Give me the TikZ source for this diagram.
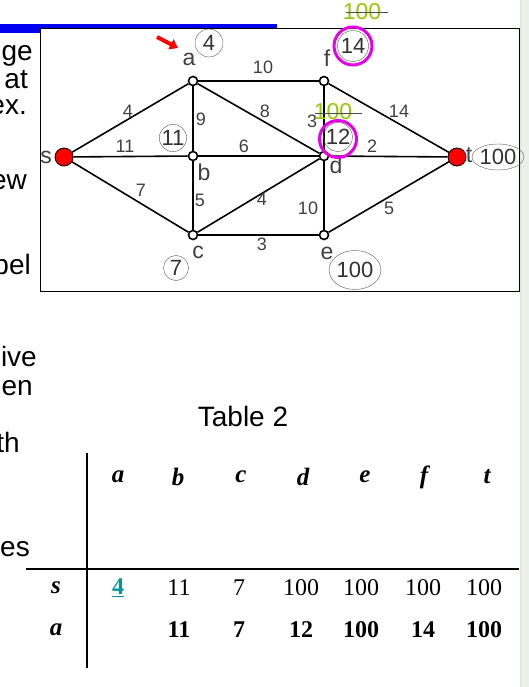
\documentclass[tikz,border=0pt]{standalone}
\usepackage{fontspec}
\setmainfont{Liberation Serif}
\newfontfamily\arialf{Liberation Sans}
\usepackage{xcolor}
\usetikzlibrary{arrows.meta,shapes.geometric}
\definecolor{slideblue}{RGB}{0,0,240}
\definecolor{oldgreen}{RGB}{150,200,0}
\definecolor{hilite}{RGB}{230,0,230}
\definecolor{tealnum}{RGB}{0,150,160}
\definecolor{stripgray}{RGB}{234,241,234}

\begin{document}
\begin{tikzpicture}[x=1pt, y=-1pt, >=Stealth,
    vtx/.style={circle, draw, line width=1.6pt, fill=white, minimum size=9pt, inner sep=0},
    endvtx/.style={circle, draw, line width=0.8pt, fill=red, minimum size=18pt, inner sep=0},
    edgewt/.style={font=\arialf\fontsize{18}{18}\selectfont, text=black!75, inner sep=0},
    vname/.style={font=\arialf\fontsize{23}{23}\selectfont, text=black!75, inner sep=0},
    dist/.style={circle, draw=black!65, font=\arialf\fontsize{22}{22}\selectfont, text=black!80, inner sep=0, minimum size=#1},
    distwide/.style={ellipse, draw=black!65, font=\arialf\fontsize{22}{22}\selectfont, text=black!80, inner sep=0, minimum width=43pt, minimum height=#1},
    ring/.style={circle, draw=hilite, line width=3pt, minimum size=#1},
    oldval/.style={font=\arialf\fontsize{23}{23}\selectfont, text=oldgreen, inner sep=0},
    cutword/.style={font=\arialf\fontsize{28}{28}\selectfont, anchor=base east, inner sep=0},
    colhead/.style={font=\fontsize{25}{25}\selectfont\bfseries\itshape, inner sep=0},
    cell/.style={font=\fontsize{24}{24}\selectfont, inner sep=0}]
    \useasboundingbox (0,0) rectangle (529,687);
    \fill[white] (0,0) rectangle (529,687);
    \fill[slideblue] (0,24) rectangle (277,33);
    \fill[stripgray] (520,0) rectangle (529,687);
    \draw[black!12] (520,0) -- (520,687);
    \draw[fill=white, line width=1pt] (40,29) rectangle (519,291);

    % slide text cut off at the left
    \begin{scope}
    \clip (0,0) rectangle (40,687);
    \foreach \y/\x/\word [count=\i] in {61/33/ge, 89/28/at, 115/27/ex., 189/27/ew, 274/31/bel,
        366/37/ive, 395/33/en, 452/20/th, 556/30/es}
        \node[cutword] (cw\i) at (\x,\y) {\word};
    \end{scope}

    % network
    \node[endvtx] (s) at (64,157) {};
    \node[vtx] (a) at (193,81) {};
    \node[vtx] (b) at (193,156) {};
    \node[vtx] (c) at (193,235) {};
    \node[vtx] (f) at (324,81) {};
    \node[vtx] (d) at (324,156) {};
    \node[vtx] (e) at (324,235) {};
    \node[endvtx] (t) at (457,157) {};
    \foreach \u/\v in {s/a,s/b,s/c,a/f,a/b,a/d,b/d,b/c,c/d,c/e,f/d,f/t,d/t,d/e,e/t}
        \draw[line width=1.6pt] (\u) -- (\v);

    \foreach \x/\y/\w [count=\i] in {128/111/4, 263/67/10, 201/119/9, 265/111/8, 125/146/11,
        244/146/6, 141/190/7, 200/200/5, 262/199/4, 262/244/3, 308/208/10, 399/111/14,
        372/146/2, 389/208/5, 312/121/3}
        \node[edgewt] (w\i) at (\x,\y) {\w};

    \foreach \x/\y/\n in {189/59/a, 327/58/f, 204/172/b, 198/252/c, 336/165/d, 327/253/e,
        46/157/s, 469/155/t}
        \node[vname] (l\n) at (\x,\y) {\n};

    \node[dist=28pt] (da) at (209,43) {4};
    \node[dist=31pt] (df) at (353,46) {14};
    \node[dist=26pt] (db) at (173,138) {11};
    \node[dist=27pt] (dd) at (338,137) {12};
    \node[dist=25pt] (dc) at (176,268) {7};
    \node[distwide=39pt] (de) at (355,270) {100};
    \node[distwide=26pt] (dt) at (498,157) {100};
    \node[ring=38pt] (rf) at (353,46) {};
    \node[ring=37pt] (rd) at (338,139) {};

    % crossed-out old labels
    \node[oldval] (of) at (362,12) {100};
    \node[oldval] (od) at (333,112) {100};
    \coordinate (sf1) at (346,12); \coordinate (sf2) at (388,12);
    \coordinate (sd1) at (315,113); \coordinate (sd2) at (362,113);
    \draw[black!70, line width=0.9pt] (sf1) -- (sf2);
    \draw[black!70, line width=0.9pt] (sd1) -- (sd2);

    \coordinate (pa) at (157,37); \coordinate (pb) at (178,48);
    \draw[red, line width=4pt, -{Triangle[length=8pt,width=11pt]}] (pa) -- (pb);

    % Table 2
    \node[font=\arialf\fontsize{28}{28}\selectfont, inner sep=0] (cap) at (243,416) {Table 2};
    \draw[line width=1.5pt] (87,453) -- (87,668);
    \draw[line width=1.2pt] (26,569) -- (519,569);
    \foreach \x/\n in {118/a, 178/b, 241/c, 303/d, 365/e, 424/f, 487/t}
        \node[colhead] (h\n) at (\x,477) {\n};
    \node[colhead] (rs) at (56,588) {s};
    \node[colhead] (ra) at (56,630) {a};
    \node[cell, text=tealnum, font=\fontsize{24}{24}\selectfont\bfseries] (s1) at (118,588) {\underline{4}};
    \foreach \x/\v [count=\i from 2] in {179/11, 239/7, 301/100, 361/100, 423/100, 484/100}
        \node[cell] (s\i) at (\x,588) {\v};
    \foreach \x/\v [count=\i from 2] in {179/11, 239/7, 301/12, 361/100, 423/14, 484/100}
        \node[cell, font=\fontsize{24}{24}\selectfont\bfseries] (a\i) at (\x,630) {\v};
\end{tikzpicture}
\end{document}
